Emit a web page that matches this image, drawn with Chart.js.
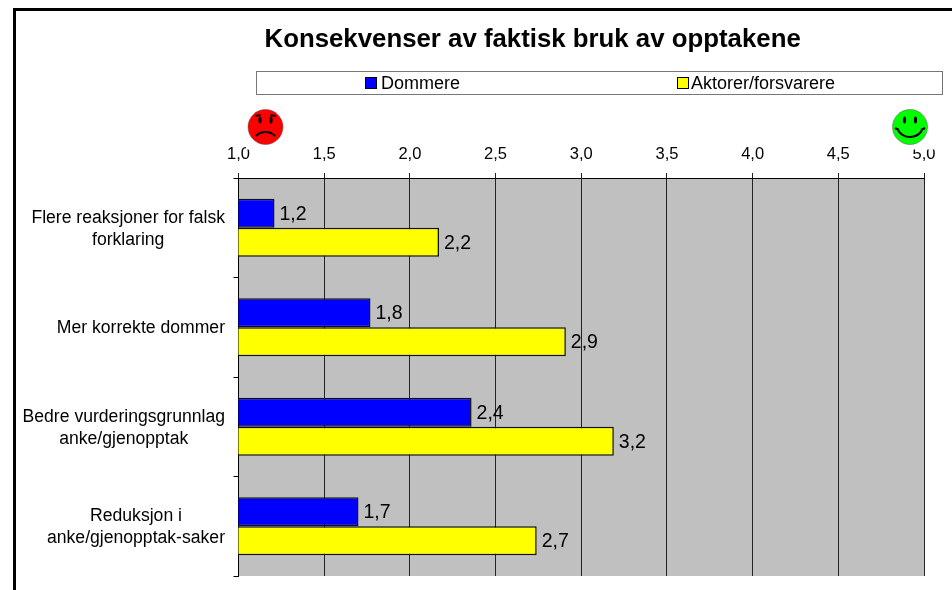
<!DOCTYPE html>
<html><head><meta charset="utf-8">
<style>html,body{margin:0;padding:0;background:#fff}#w{width:952px;height:590px;position:relative}</style>
<script src="https://cdn.jsdelivr.net/npm/chart.js@4"></script>
</head><body><div id="w"><canvas id="c" width="952" height="590"></canvas></div>
<script>
const titleText = 'Konsekvenser av faktisk bruk av opptakene';
const categories = [['Flere reaksjoner for falsk','forklaring'],['Mer korrekte dommer'],['Bedre vurderingsgrunnlag','anke/gjenopptak'],['Reduksjon i','anke/gjenopptak-saker']];
const seriesNames = ['Dommere','Aktorer/forsvarere'];
const dommere = [1.21, 1.77, 2.36, 1.70];
const aktorer = [2.17, 2.91, 3.19, 2.74];
const colors = ['#0000FF','#FFFF00'];
const FONT = '"Liberation Sans", Arial, sans-serif';
const comma = v => Number(v).toFixed(1).replace('.',',');

function smiley(ctx,x,y,r,fill,happy){
  ctx.save();
  ctx.beginPath();ctx.arc(x,y,r,0,Math.PI*2);ctx.fillStyle=fill;ctx.fill();
  ctx.strokeStyle='#555';ctx.lineWidth=.5;ctx.stroke();
  ctx.strokeStyle='#000';ctx.fillStyle='#000';ctx.lineWidth=2;
  [-5.5,5.5].forEach(d=>{ctx.beginPath();ctx.ellipse(x+d,y-7,1.6,3.6,0,0,Math.PI*2);ctx.fill();});
  ctx.beginPath();
  if(happy){
    ctx.arc(x,y-4,14,.17*Math.PI,.83*Math.PI);
    ctx.moveTo(x-15,y+1);ctx.lineTo(x-11,y+3);ctx.moveTo(x+15,y+1);ctx.lineTo(x+11,y+3);
  } else {
    ctx.arc(x,y+19,14,1.25*Math.PI,1.75*Math.PI);
    ctx.moveTo(x-10,y-11);ctx.lineTo(x-5,y-12);ctx.moveTo(x+10,y-11);ctx.lineTo(x+5,y-12);
  }
  ctx.stroke();
  ctx.restore();
}

const decor = {
  id:'decor',
  beforeDraw(chart){
    const {ctx,chartArea:a}=chart;
    ctx.save();
    ctx.fillStyle='#fff';ctx.fillRect(0,0,chart.width,chart.height);
    ctx.fillStyle='#C0C0C0';ctx.fillRect(a.left,a.top,a.right-a.left,a.bottom-a.top);
    ctx.restore();
  },
  afterDraw(chart){
    const {ctx}=chart;
    ctx.save();
    ctx.fillStyle='#000';
    ctx.fillRect(13,8,939,3);
    ctx.fillRect(13,8,3,582);
    ctx.textBaseline='middle';ctx.textAlign='left';
    ctx.font='bold 25.8px '+FONT;
    ctx.fillText(titleText,264.5,40);
    ctx.fillStyle='#fff';ctx.fillRect(256.5,71.5,686,23);
    ctx.strokeStyle='#777';ctx.lineWidth=1;ctx.strokeRect(256.5,71.5,686,23);
    ctx.font='18px '+FONT;
    [[365,381,seriesNames[0],colors[0]],[677,691,seriesNames[1],colors[1]]].forEach(([x,tx,t,c])=>{
      ctx.fillStyle=c;ctx.fillRect(x+.5,77.5,11,11);
      ctx.strokeStyle='#000';ctx.strokeRect(x+.5,77.5,11,11);
      ctx.fillStyle='#000';ctx.fillText(t,tx,84);
    });
    ctx.fillStyle='#fff';
    ctx.fillRect(246,108,40,41.5);
    ctx.fillRect(891,108,48,41.5);
    smiley(ctx,265.5,127,17.5,'#FF0000',false);
    smiley(ctx,910,127,17.5,'#00FF00',true);
    // category labels: block right-aligned to the axis, lines centred in the block
    ctx.fillStyle='#000';ctx.font='17.6px '+FONT;ctx.textAlign='center';ctx.textBaseline='middle';
    const yS=chart.scales.y;
    categories.forEach((lines,i)=>{
      const w=Math.max(...lines.map(l=>ctx.measureText(l).width));
      const cx=225-w/2, cy=yS.getPixelForTick(i)+1;
      lines.forEach((l,k)=>ctx.fillText(l,cx,cy+(k-(lines.length-1)/2)*22));
    });
    // value labels
    ctx.font='19.5px '+FONT;ctx.textAlign='left';
    chart.data.datasets.forEach((ds,i)=>{
      chart.getDatasetMeta(i).data.forEach((el,j)=>{
        ctx.fillText(comma(ds.data[j]),el.x+5,el.y+1);
      });
    });
    ctx.restore();
  }
};

new Chart(document.getElementById('c'),{
  type:'bar',
  data:{labels:categories,datasets:[
    {label:seriesNames[0],data:dommere,backgroundColor:colors[0],borderColor:'#111',borderWidth:1.5},
    {label:seriesNames[1],data:aktorer,backgroundColor:colors[1],borderColor:'#111',borderWidth:1.5}
  ]},
  plugins:[decor],
  options:{
    indexAxis:'y',responsive:false,animation:false,
    layout:{padding:{left:0,top:0,right:28,bottom:14}},
    plugins:{legend:{display:false},title:{display:false},tooltip:{enabled:false}},
    datasets:{bar:{barPercentage:1,categoryPercentage:0.585}},
    scales:{
      x:{position:'top',min:1,max:5,
        afterFit(s){s.height=178;},
        ticks:{stepSize:.5,maxRotation:0,autoSkip:false,padding:9,color:'#000',font:{family:FONT,size:16.5},callback:v=>comma(v)},
        grid:{color:'#222',lineWidth:1,tickLength:5,drawTicks:true},
        border:{color:'#000',width:1}},
      y:{
        afterFit(s){s.width=238.5;s.paddingTop=0;s.paddingBottom=0;},
        ticks:{display:false},
        grid:{drawOnChartArea:false,color:'#000',lineWidth:1,tickLength:5,offset:true},
        border:{color:'#000',width:1}}
    }
  }
});
</script></body></html>
